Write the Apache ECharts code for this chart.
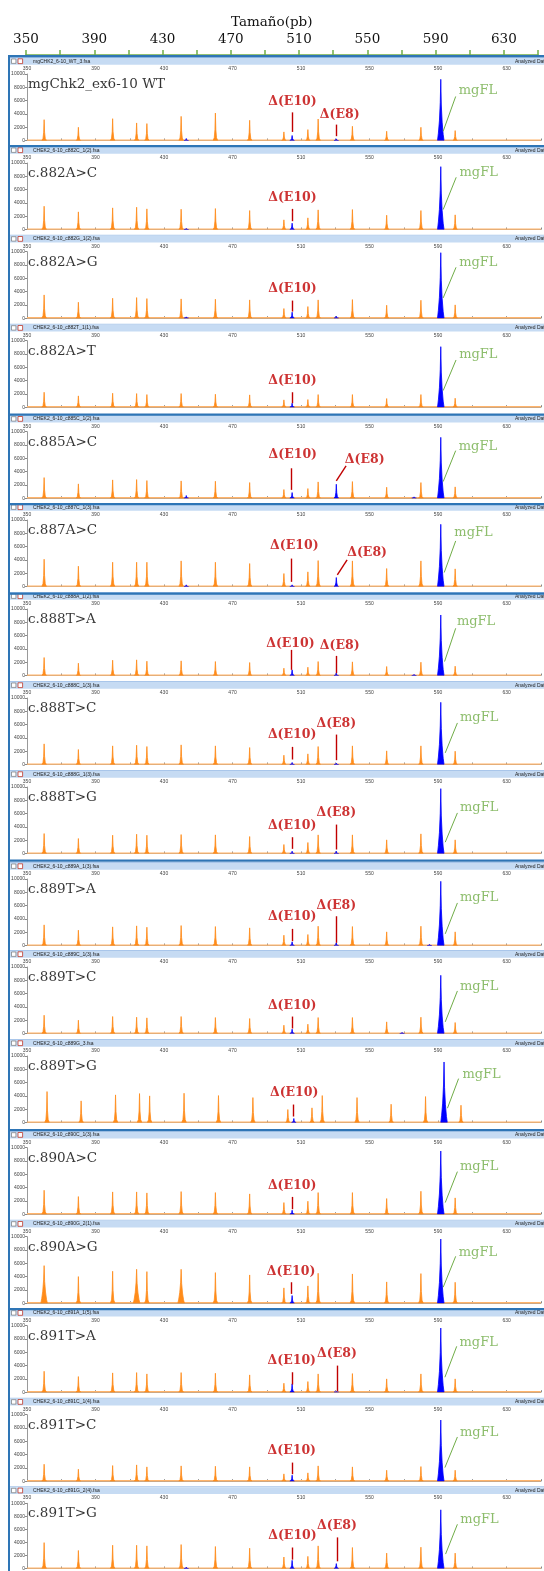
<!DOCTYPE html>
<html>
<head>
<meta charset="utf-8">
<title>CHEK2 ex6-10 minigene</title>
<script src="https://cdn.jsdelivr.net/npm/echarts@6/dist/echarts.min.js"></script>
<style>
  html, body { margin: 0; padding: 0; background: #fff; }
  #main { width: 544px; height: 1571px; }
</style>
</head>
<body>
<div id="main"></div>
<script>
// ---- data ----

// size standard (orange) fragment sizes, bp
var ladderBp = [360, 380, 400, 414, 420, 440, 460, 480, 500, 514, 520, 540, 560, 580, 600];
// c.889T>G run migrated a little off, its ladder sits here
var ladder889G = [361.7, 381.6, 401.7, 415.7, 421.6, 441.7, 461.8, 481.9, 502.3, 516.4, 522.4, 542.7, 562.6, 582.7, 603.4];

var sampleNames = ['mgChk2_ex6-10 WT', 'c.882A>C', 'c.882A>G', 'c.882A>T', 'c.885A>C', 'c.887A>C',
  'c.888T>A', 'c.888T>C', 'c.888T>G', 'c.889T>A', 'c.889T>C', 'c.889T>G', 'c.890A>C', 'c.890A>G',
  'c.891T>A', 'c.891T>C', 'c.891T>G'];

var fileNames = ['mgCHK2_6-10_WT_3.fsa', 'CHEK2_6-10_c882C_1(2).fsa', 'CHEK2_6-10_c882G_1(2).fsa',
  'CHEK2_6-10_c882T_1(1).fsa', 'CHEK2_6-10_c885C_1(2).fsa', 'CHEK2_6-10_c887C_1(3).fsa',
  'CHEK2_6-10_c888A_1(2).fsa', 'CHEK2_6-10_c888C_1(3).fsa', 'CHEK2_6-10_c888G_1(3).fsa',
  'CHEK2_6-10_c889A_1(3).fsa', 'CHEK2_6-10_c889C_1(3).fsa', 'CHEK2_6-10_c889G_3.fsa',
  'CHEK2_6-10_c890C_1(3).fsa', 'CHEK2_6-10_c890G_2(1).fsa', 'CHEK2_6-10_c891A_1(5).fsa',
  'CHEK2_6-10_c891C_1(4).fsa', 'CHEK2_6-10_c891G_2(4).fsa'];

// orange peak heights (RFU), one row per sample, same order as ladderBp
var ladderHeights = [
  [3130, 1990, 3280, 2640, 2540, 3630, 4130, 3040, 1290, 1640, 3230, 2140, 1390, 1990, 1490],
  [3500, 2650, 3250, 3350, 3100, 3050, 3150, 2850, 1450, 1750, 2950, 3000, 2150, 2850, 2200],
  [3500, 2400, 3000, 3100, 2950, 2900, 2850, 2750, 1450, 1750, 2750, 2800, 1950, 2700, 2000],
  [2250, 1700, 2100, 2050, 1900, 2050, 1950, 1850, 1100, 1150, 1900, 1900, 1300, 1900, 1350],
  [3100, 2150, 2750, 2800, 2650, 2600, 2550, 2350, 1300, 1450, 2450, 2500, 1650, 2350, 1700],
  [4100, 3050, 3650, 3650, 3650, 3850, 3650, 3450, 1950, 2200, 3900, 3850, 2700, 3850, 2650],
  [2700, 1850, 2300, 2350, 2150, 2200, 2100, 1950, 1100, 1250, 2100, 2050, 1350, 2000, 1400],
  [3100, 2250, 2800, 2900, 2700, 2950, 2800, 2550, 1400, 1600, 2700, 2800, 2050, 2800, 2000],
  [3000, 2250, 2750, 2900, 2750, 2850, 2800, 2550, 1350, 1650, 2800, 2800, 2050, 2950, 2050],
  [3100, 2300, 2800, 2950, 2750, 3000, 2850, 2650, 1550, 1650, 2900, 2850, 2050, 2900, 2050],
  [2750, 2000, 2550, 2450, 2350, 2550, 2400, 2250, 1250, 1400, 2400, 2400, 1750, 2450, 1650],
  [4650, 3250, 4150, 4350, 4000, 4400, 4050, 3750, 1950, 2200, 4050, 3750, 2750, 3900, 2600],
  [3600, 2650, 3350, 3350, 3200, 3400, 3250, 3050, 1750, 1950, 3250, 3250, 2350, 3450, 2450],
  [5650, 4000, 4800, 5100, 4750, 5100, 4600, 4250, 2300, 2600, 4500, 4400, 3200, 4450, 3150],
  [3150, 2350, 2900, 2950, 2750, 2950, 2850, 2600, 1350, 1600, 2750, 2800, 2000, 2750, 2000],
  [2550, 1800, 2350, 2450, 2150, 2300, 2250, 2150, 1100, 1250, 2300, 2150, 1650, 2200, 1650],
  [3970, 2760, 3570, 3570, 3470, 3670, 3370, 3120, 1760, 1860, 3470, 3220, 2360, 3270, 2360]
];

// blue (FAM) peaks [bp, RFU]: mgFL, d(E10), d(E8) and small stuff
var bluePeaks = [
  [[443, 300], [504.8, 750], [530.6, 250], [591.6, 9200]],
  [[443, 150], [504.8, 950], [591.6, 9450]],
  [[443, 200], [504.8, 900], [530.6, 300], [591.6, 9850]],
  [[504.8, 600], [591.6, 9100]],
  [[443, 400], [504.8, 850], [530.6, 2100], [576, 200], [591.6, 9150]],
  [[443, 250], [504.8, 250], [530.6, 1350], [591.6, 9350]],
  [[504.8, 850], [530.6, 350], [576, 150], [591.6, 9100]],
  [[504.8, 300], [530.6, 200], [591.6, 9350]],
  [[504.8, 350], [530.6, 350], [591.6, 9750]],
  [[504.8, 550], [530.6, 400], [585, 150], [591.6, 9650]],
  [[504.8, 650], [569, 150], [591.6, 8750]],
  [[505.8, 600], [593.5, 9100]],
  [[504.8, 600], [591.6, 9500]],
  [[504.8, 1150], [591.6, 9650]],
  [[504.8, 1250], [530.6, 100], [591.6, 9650]],
  [[504.8, 900], [591.6, 9200]],
  [[443, 200], [504.8, 1250], [530.6, 750], [591.6, 9000]]
];

// call-outs: [text, text bp, text RFU, pointer start [bp,RFU], pointer end [bp,RFU]]
var callouts = [
  [['Δ(E10)', 505, 5870, [504.6, 4230], [504.6, 1290]], ['Δ(E8)', 532.6, 3880, [530.6, 2390], [530.6, 650]], ['mgFL', 613.3, 7460, [600.3, 6620], [593, 1390]]],
  [['Δ(E10)', 505, 4750, [504.6, 3100], [504.6, 1250]], ['mgFL', 613.7, 8600, [600.6, 7850], [593, 3000]]],
  [['Δ(E10)', 505, 4500, [504.6, 2650], [504.6, 1000]], ['mgFL', 613.5, 8400, [600.5, 7650], [593, 3050]]],
  [['Δ(E10)', 505, 4000, [504.6, 2250], [504.6, 600]], ['mgFL', 613.5, 7850, [600.5, 7100], [593, 2500]]],
  [['Δ(E10)', 505.2, 6600, [504, 4500], [504, 1250]], ['Δ(E8)', 547.2, 5850, [536.3, 4850], [530.6, 2600]], ['mgFL', 613.3, 7750, [600.3, 7150], [593, 2500]]],
  [['Δ(E10)', 506.1, 6200, [504.2, 4200], [504.2, 700]], ['Δ(E8)', 548.6, 5100, [536.9, 4000], [531.2, 1750]], ['mgFL', 610.7, 8100, [600.3, 6850], [593.6, 2100]]],
  [['Δ(E10)', 503.8, 4700, [504.3, 3850], [504.3, 850]], ['Δ(E8)', 532.6, 4450, [530.6, 2950], [530.6, 350]], ['mgFL', 612.2, 8100, [600.3, 7100], [593.8, 2100]]],
  [['Δ(E10)', 504.8, 4400, [504.6, 2650], [504.6, 750]], ['Δ(E8)', 530.6, 6150, [530.6, 4500], [530.6, 650]], ['mgFL', 614, 7000, [601.3, 6250], [594.2, 1750]]],
  [['Δ(E10)', 504.8, 4200, [504.6, 2450], [504.6, 700]], ['Δ(E8)', 530.6, 6100, [530.6, 4350], [530.6, 600]], ['mgFL', 614, 6850, [601.3, 6100], [594.2, 1700]]],
  [['Δ(E10)', 504.8, 4250, [504.6, 2500], [504.6, 650]], ['Δ(E8)', 530.6, 6000, [530.6, 4400], [530.6, 400]], ['mgFL', 614, 7150, [601.3, 6400], [594.2, 1750]]],
  [['Δ(E10)', 504.8, 4150, [504.6, 2550], [504.6, 750]], ['mgFL', 614, 7050, [601.3, 6400], [594.2, 1750]]],
  [['Δ(E10)', 506, 4400, [505.5, 2700], [505.5, 900]], ['mgFL', 615.4, 7250, [602, 6600], [595.5, 2150]]],
  [['Δ(E10)', 504.8, 4350, [504.6, 2600], [504.6, 750]], ['mgFL', 614, 7150, [601.3, 6400], [594.2, 1750]]],
  [['Δ(E10)', 504.2, 4800, [504.2, 3150], [504.2, 1400]], ['mgFL', 613.3, 7550, [600.3, 7050], [593, 2400]]],
  [['Δ(E10)', 504.6, 4750, [504.6, 3000], [504.6, 1150]], ['Δ(E8)', 531, 5850, [531, 4000], [531, 150]], ['mgFL', 613.7, 7500, [600.9, 6900], [594, 2250]]],
  [['Δ(E10)', 504.6, 4550, [504.6, 2800], [504.6, 1050]], ['mgFL', 614, 7300, [601.3, 6650], [594, 2050]]],
  [['Δ(E10)', 505, 4970, [504.6, 3220], [504.6, 1360]], ['Δ(E8)', 531, 6530, [531, 4770], [531, 1100]], ['mgFL', 614.2, 7490, [601.3, 6780], [594.4, 2210]]]
];

// ---- layout ----
var SERIF = 'DejaVu Serif';
var ORANGE = '#ff8c1a';
var BLUE = '#0000ff';
var plotTops = [74, 163, 251.7, 340.7, 431.7, 520, 609, 698, 787, 879, 967, 1056, 1147.7, 1236.7, 1325.7, 1414.7, 1503.3];
var PLOT_H = 66.5;
var thickLines = [56, 146, 414.5, 504, 593.5, 860.5, 1130, 1309];

// x axes run in bp above 350 so ticks start at 0
var X0 = 350;

// narrow spike for ladder / small peaks, broader one for the big product
var thinShape = [[-1.35, 0], [-0.65, 0.1], [-0.25, 0.4], [0, 1], [0.25, 0.4], [0.65, 0.1], [1.35, 0]];
var wideShape = [[-1.9, 0], [-1.4, 0.12], [-0.8, 0.32], [-0.3, 0.62], [0, 1], [0.3, 0.58], [0.8, 0.3], [1.4, 0.1], [1.9, 0]];

function peakSeries(gi, peaks, color, z) {
  return {
    type: 'custom', xAxisIndex: gi, yAxisIndex: gi, silent: true, clip: true, z: z,
    data: peaks.map(function (p) { return [p[0] - X0, p[1]]; }),
    renderItem: function (params, api) {
      var x = api.value(0), h = api.value(1);
      var shape = h > 5000 ? wideShape : thinShape;
      var pts = shape.map(function (s) { return api.coord([x + s[0], h * s[1]]); });
      return { type: 'polygon', shape: { points: pts }, style: { fill: color, stroke: color, lineWidth: 0.8 } };
    }
  };
}

function tickLabel(v) {
  return v % 40 === 0 ? String(v + X0) : '';
}

var chart = echarts.init(document.getElementById('main'));

var grids = [], xAxes = [], yAxes = [], series = [], graphics = [];

// top ruler "Tamaño(pb)"
grids.push({ left: 26, top: 54, width: 512, height: 1 });
xAxes.push({
  gridIndex: 0, type: 'value', min: 0, max: 300, interval: 20, position: 'top',
  axisLine: { lineStyle: { color: '#70ad47', width: 1.5 } },
  axisTick: { length: 5, lineStyle: { color: '#70ad47', width: 1.5 } },
  axisLabel: { margin: 8, fontFamily: SERIF, fontSize: 13.5, color: '#111', formatter: tickLabel },
  splitLine: { show: false }
});
yAxes.push({ gridIndex: 0, type: 'value', show: false });

// frame on the left
graphics.push({ type: 'rect', shape: { x: 8, y: 55, width: 2, height: 1516 }, style: { fill: '#2e75b6' }, z: 10 });

sampleNames.forEach(function (name, i) {
  var gi = i + 1;
  var T = plotTops[i];

  grids.push({ left: 27, top: T, width: 513.8, height: PLOT_H });
  xAxes.push({
    gridIndex: gi, type: 'value', min: 0, max: 300, interval: 20, position: 'top',
    axisLine: { lineStyle: { color: '#9a9a9a', width: 1 } },
    axisTick: { length: 2, lineStyle: { color: '#888' } },
    axisLabel: { margin: 3, fontSize: 5, color: '#444', fontFamily: 'Liberation Sans', formatter: tickLabel },
    splitLine: { show: false }
  });
  yAxes.push({
    gridIndex: gi, type: 'value', min: 0, max: 10000, interval: 2000,
    axisLine: { show: true, lineStyle: { color: '#9a9a9a', width: 1 } },
    axisTick: { show: true, length: 2, lineStyle: { color: '#888' } },
    axisLabel: { margin: 2, fontSize: 5, color: '#444', fontFamily: 'Liberation Sans', formatter: function (v) { return String(v); } },
    splitLine: { show: false }
  });

  // baseline noise band
  series.push({
    type: 'line', xAxisIndex: gi, yAxisIndex: gi, data: [[0, 60], [300, 60]], symbol: 'none', silent: true, z: 1,
    lineStyle: { color: '#ffb46b', width: 1.4 }
  });

  // blue sample trace
  series.push(peakSeries(gi, bluePeaks[i], BLUE, 2));

  // orange size standard
  var pos = i === 11 ? ladder889G : ladderBp;
  var ladder = pos.map(function (p, k) { return [p, ladderHeights[i][k]]; });
  series.push(peakSeries(gi, ladder, ORANGE, 3));

  // sample name + call-outs
  var pts = [{
    value: [0.3, 8450],
    label: { show: true, position: 'right', distance: 0, formatter: name, fontFamily: SERIF, fontSize: 13.5, color: '#000' }
  }];
  var lines = [];
  callouts[i].forEach(function (c) {
    var red = c[0] !== 'mgFL';
    var col = red ? '#c00000' : '#70ad47';
    pts.push({
      value: [c[1] - X0, c[2]],
      label: {
        show: true, position: 'inside', formatter: c[0], fontFamily: SERIF,
        fontSize: red ? 12.5 : 13, fontWeight: red ? 'bold' : 'normal', color: col
      }
    });
    lines.push([
      { coord: [c[3][0] - X0, c[3][1]], lineStyle: { color: col, width: red ? 1.4 : 1, type: 'solid' } },
      { coord: [c[4][0] - X0, c[4][1]] }
    ]);
  });
  series.push({
    type: 'scatter', xAxisIndex: gi, yAxisIndex: gi, data: pts, symbolSize: 1, silent: true, z: 5,
    itemStyle: { color: 'rgba(0,0,0,0)' },
    markLine: { symbol: 'none', silent: true, animation: false, label: { show: false }, data: lines }
  });

  // GeneMapper header strip
  graphics.push({ type: 'rect', shape: { x: 10, y: T - 17, width: 534, height: 1 }, style: { fill: '#a9c6ea' }, z: 1 });
  graphics.push({ type: 'rect', shape: { x: 10, y: T - 16, width: 534, height: 6.8 }, style: { fill: '#c6dbf3' }, z: 1 });
  graphics.push({ type: 'rect', shape: { x: 11.5, y: T - 15, width: 4.4, height: 4.4 }, style: { fill: '#fff', stroke: '#666', lineWidth: 0.6 }, z: 2 });
  graphics.push({ type: 'rect', shape: { x: 18, y: T - 15.2, width: 4.6, height: 4.8 }, style: { fill: '#fff', stroke: '#c0392b', lineWidth: 0.8 }, z: 2 });
  graphics.push({ type: 'text', style: { text: fileNames[i], x: 33, y: T - 12.6, fill: '#222', font: '5px "Liberation Sans"', verticalAlign: 'middle' }, z: 2 });
  graphics.push({ type: 'text', style: { text: 'Analyzed Data', x: 515, y: T - 12.6, fill: '#222', font: '5px "Liberation Sans"', verticalAlign: 'middle' }, z: 2 });
});

thickLines.forEach(function (y) {
  graphics.push({ type: 'rect', shape: { x: 8, y: y - 1, width: 536, height: 2.2 }, style: { fill: '#2e75b6' }, z: 10 });
});

var option = {
  backgroundColor: '#ffffff',
  animation: false,
  title: {
    text: 'Tamaño(pb)', left: 226, top: 10,
    textStyle: { fontFamily: SERIF, fontSize: 13.5, fontWeight: 'normal', color: '#111' }
  },
  grid: grids,
  xAxis: xAxes,
  yAxis: yAxes,
  series: series,
  graphic: graphics
};

chart.setOption(option);
</script>
</body>
</html>
